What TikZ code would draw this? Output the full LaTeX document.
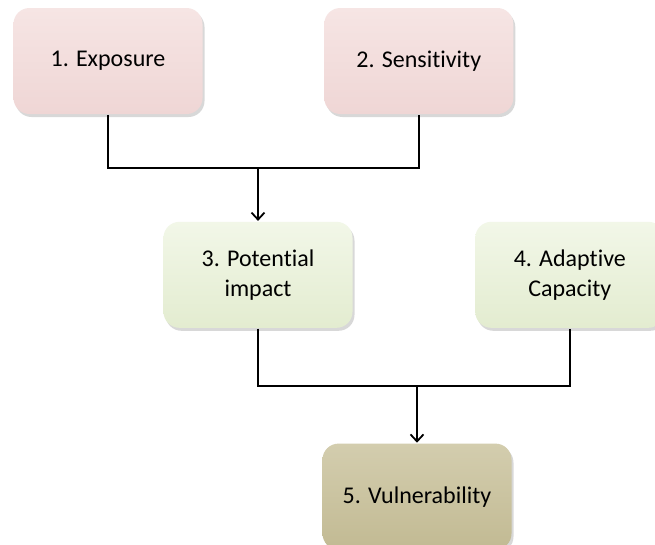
\documentclass[tikz,border=0pt]{standalone}
\usepackage{fontspec}
\setmainfont{Carlito}[Ligatures=NoCommon]
\usepackage{xcolor}
\usepackage{tikz}
\usetikzlibrary{arrows.meta,positioning,calc,shadows}

\definecolor{pinkbox}{HTML}{EFD6D5}
\definecolor{pinktop}{HTML}{F6E5E4}
\definecolor{greenbox}{HTML}{E3ECD0}
\definecolor{greentop}{HTML}{F2F7E8}
\definecolor{tanbox}{HTML}{C2BA93}
\definecolor{tantop}{HTML}{D3CDAE}

\begin{document}
\begin{tikzpicture}[>={Straight Barb[length=7pt,width=13pt]},line width=1.8pt,
  stagebox/.style={rectangle,rounded corners=16pt,minimum width=189pt,minimum height=106pt,
    align=center,font=\fontsize{24}{30}\selectfont,
    drop shadow={shadow xshift=2pt,shadow yshift=-3pt,opacity=0.3}},
  pink stage/.style={stagebox,top color=pinktop,bottom color=pinkbox},
  green stage/.style={stagebox,top color=greentop,bottom color=greenbox},
  tan stage/.style={stagebox,top color=tantop,bottom color=tanbox}]
  \path[use as bounding box,fill=white] (0,0) rectangle (655pt,-544pt);

  \node[pink stage] (exposure) at (108pt,-61pt) {1. Exposure};
  \node[pink stage] (sensitivity) [right=120pt of exposure] {2. Sensitivity};
  \node[green stage] (potential) [below=106pt of exposure,xshift=150pt] {3. Potential\\impact};
  \node[green stage] (adaptive) [right=121pt of potential] {4. Adaptive\\Capacity};
  \node[tan stage] (vulnerability) [below=114pt of potential,xshift=159pt] {5. Vulnerability};

  \coordinate (top join) at ($(exposure.south)!.5!(potential.north)$);
  \coordinate (low join) at ($(potential.south)!.5!(vulnerability.north)$);

  \draw (exposure.south) |- (top join -| sensitivity.south) -- (sensitivity.south);
  \draw[->] (top join -| potential.north) -- (potential.north);
  \draw (potential.south) |- (low join -| adaptive.south) -- (adaptive.south);
  \draw[->] (low join -| vulnerability.north) -- (vulnerability.north);
\end{tikzpicture}
\end{document}
